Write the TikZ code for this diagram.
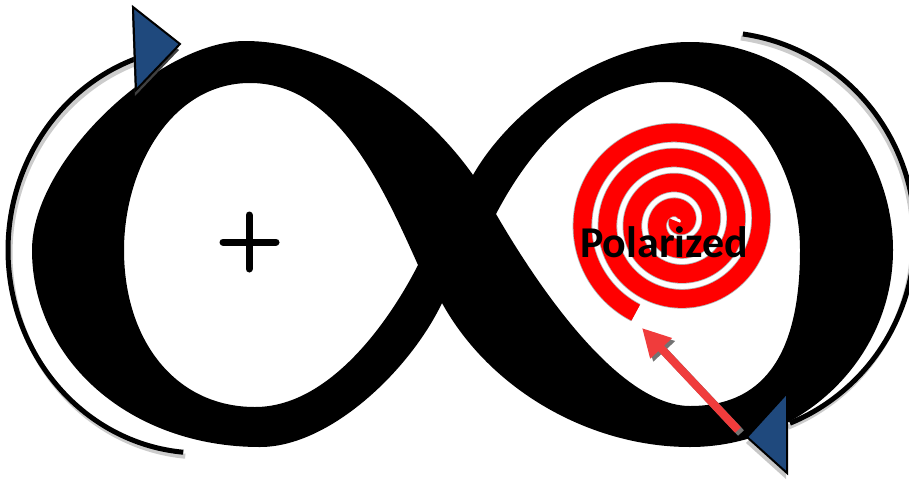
\documentclass[tikz,border=0pt]{standalone}
\usepackage{fontspec}
\newfontfamily\carlito{Carlito}
\usetikzlibrary{arrows.meta}
\definecolor{arrowblue}{RGB}{31,73,125}
\definecolor{spiralred}{RGB}{255,0,0}
\definecolor{ptrred}{RGB}{240,60,60}
\tikzset{
  arcline/.style={line width=5pt, black},
  arcshadow/.style={line width=5pt, black!20},
  bluetri/.style={fill=arrowblue, draw=black, line width=2pt, line join=miter},
  darkshadow/.style={fill=black!75},
  lightshadow/.style={fill=black!22},
  plusline/.style={line width=7pt, line cap=round, black},
  spiralstroke/.style={line width=18pt, spiralred},
  spiraledge/.style={line width=19.6pt, black!30},
  pointer/.style={line width=8pt, ptrred, -{Triangle[length=28pt,width=28pt]}},
  pointershadow/.style={line width=8pt, black!55, -{Triangle[length=28pt,width=28pt]}},
}
\begin{document}
\begin{tikzpicture}[x=1pt,y=-1pt]
\useasboundingbox (0,0) rectangle (909,479);
\clip (0,0) rectangle (909,479);
% infinity band: outer contour and two holes
\fill[black, even odd rule]
  (473,175) .. controls (420,100) and (330,41) .. (245,41)
            .. controls (160,41) and (32,160) .. (32,250)
            .. controls (32,360) and (130,447) .. (260,447)
            .. controls (330,447) and (410,370) .. (442,303)
            .. controls (490,390) and (590,447) .. (690,447)
            .. controls (800,447) and (893,360) .. (893,250)
            .. controls (893,140) and (800,42) .. (690,42)
            .. controls (600,42) and (510,110) .. (473,175) -- cycle
  (418,265) .. controls (380,180) and (335,83) .. (250,83)
            .. controls (170,83) and (124,170) .. (124,250)
            .. controls (124,340) and (175,407) .. (255,407)
            .. controls (330,407) and (390,320) .. (418,265) -- cycle
  (496,214) .. controls (540,130) and (600,82) .. (665,82)
            .. controls (750,82) and (800,170) .. (800,250)
            .. controls (800,360) and (760,406) .. (690,406)
            .. controls (620,406) and (540,290) .. (496,214) -- cycle;
% outer arcs
\draw[arcshadow] plot[domain=108:265, samples=90, smooth] ({202+192*cos(\x)},{254-203*sin(\x)});
\draw[arcline] plot[domain=108:265, samples=90, smooth] ({200+192*cos(\x)},{250-203*sin(\x)});
\draw[arcshadow] plot[domain=82:-68, samples=90, smooth] ({713+200*cos(\x)},{239-203*sin(\x)});
\draw[arcline] plot[domain=82:-68, samples=90, smooth] ({715+200*cos(\x)},{235-203*sin(\x)});
% spiral
\draw[spiraledge] plot[domain=245:1685, samples=500, smooth] ({678+0.069444*(\x-245)*cos(\x)},{222-0.069444*(\x-245)*sin(\x)});
\draw[spiralstroke] plot[domain=245:1685, samples=500, smooth] ({678+0.069444*(\x-245)*cos(\x)},{222-0.069444*(\x-245)*sin(\x)});
% label
\node[font=\carlito\bfseries\fontsize{44}{50}\selectfont, anchor=base, inner sep=0pt] (pol) at (664,257) {Polarized};
% plus sign
\draw[plusline] (249,215) -- (249,269);
\draw[plusline] (223,242) -- (276,242);
% red pointer
\coordinate (ptail) at (738,430);
\coordinate (ptip) at (642,328);
\draw[pointershadow] ([shift={(3,3)}]ptail) -- ([shift={(3,3)}]ptip);
\draw[pointer] (ptail) -- (ptip);
% blue arrowheads
\fill[darkshadow] (132,13) -- (179,50) -- (135,96) -- cycle;
\draw[bluetri] (133,7) -- (180,44) -- (136,90) -- cycle;
\fill[lightshadow] (786,399) -- (746,443) -- (786,479) -- cycle;
\draw[bluetri] (787,393) -- (747,437) -- (787,473) -- cycle;
\end{tikzpicture}
\end{document}
